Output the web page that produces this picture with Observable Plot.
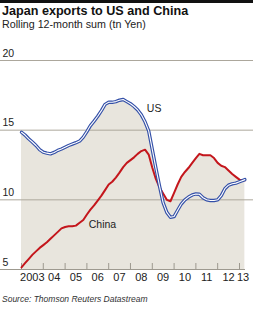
<!DOCTYPE html>
<html><head><meta charset="utf-8">
<script src="https://cdn.jsdelivr.net/npm/d3@7"></script>
<script src="https://cdn.jsdelivr.net/npm/@observablehq/plot@0.6"></script>
<style>
body{margin:0;background:#fff;}
#wrap{position:relative;width:253px;height:309px;overflow:hidden;font-family:"Liberation Sans",Arial,sans-serif;color:#222;}
#bar{position:absolute;left:0;top:0;width:253px;height:3px;background:#111;}
#title{position:absolute;left:2px;top:4.6px;font-weight:bold;font-size:12.6px;line-height:1;white-space:nowrap;color:#111;}
#subtitle{position:absolute;left:2px;top:19.4px;font-size:10.7px;line-height:1;white-space:nowrap;}
#chart{position:absolute;left:0;top:36px;}
#source{position:absolute;left:2px;top:294.8px;font-size:8.5px;font-style:italic;line-height:1;white-space:nowrap;color:#333;}
</style></head>
<body>
<div id="wrap">
<div id="bar"></div>
<div id="title">Japan exports to US and China</div>
<div id="subtitle">Rolling 12-month sum (tn Yen)</div>
<div id="chart"></div>
<div id="source">Source: Thomson Reuters Datastream</div>
</div>
<script>
const months = ["2003-01","2003-03","2003-05","2003-07","2003-09","2003-11",
"2004-01","2004-03","2004-05","2004-07","2004-09","2004-11",
"2005-01","2005-03","2005-05","2005-07","2005-09","2005-11",
"2006-01","2006-03","2006-05","2006-07","2006-09","2006-11",
"2007-01","2007-03","2007-05","2007-07","2007-09","2007-11",
"2008-01","2008-03","2008-05","2008-07","2008-09","2008-11",
"2009-01","2009-03","2009-05","2009-07","2009-09","2009-11",
"2010-01","2010-03","2010-05","2010-07","2010-09","2010-11",
"2011-01","2011-03","2011-05","2011-07","2011-09","2011-11",
"2012-01","2012-03","2012-05","2012-07","2012-09","2012-11",
"2013-01","2013-04"];
const usValues = [14.85,14.65,14.38,14.15,13.9,13.6,
13.42,13.35,13.3,13.4,13.55,13.65,
13.78,13.9,14.0,14.1,14.22,14.5,
14.9,15.33,15.65,16.0,16.4,16.85,
17.0,17.0,17.05,17.15,17.2,17.05,
16.9,16.7,16.45,16.1,15.6,14.95,
13.6,12.3,11.0,9.8,9.1,8.75,
8.8,9.25,9.7,10.0,10.2,10.35,
10.42,10.4,10.15,10.0,9.95,9.95,
10.0,10.3,10.8,11.05,11.15,11.2,
11.3,11.45];
const chinaValues = [5.15,5.45,5.75,6.05,6.3,6.55,
6.75,6.95,7.2,7.45,7.7,7.95,
8.05,8.1,8.1,8.15,8.35,8.55,
8.95,9.3,9.6,9.95,10.3,10.7,
11.1,11.3,11.6,11.95,12.35,12.65,
12.85,13.05,13.3,13.5,13.6,13.25,
12.3,11.5,10.9,10.45,10.0,9.9,
10.5,11.1,11.65,12.0,12.3,12.65,
13.0,13.3,13.2,13.2,13.2,13.0,
12.65,12.45,12.35,12.1,11.85,11.65,
11.45,11.4];
const yTicks = [5, 10, 15, 20];
const yearTicks = ["2003-01","2004-01","2005-01","2006-01","2007-01","2008-01","2009-01","2010-01","2011-01","2012-01","2013-01"];
const xLabelDates = ["2003-07","2004-07","2005-07","2006-07","2007-07","2008-07","2009-07","2010-07","2011-07","2012-07","2013-03"];
const xLabelTexts = ["2003","04","05","06","07","08","09","10","11","12","13"];
const seriesLabels = [
  {name: "US", date: "2008-10", value: 16.29},
  {name: "China", date: "2006-02", value: 8.01}
];

const parse = d3.utcParse("%Y-%m");
const rows = months.map((m, i) => ({date: parse(m), us: usValues[i], china: chinaValues[i]}));
const yearDates = yearTicks.map(parse);
const labelRows = xLabelDates.map((d, i) => ({date: parse(d), text: xLabelTexts[i]}));

const grid = "#aca79c";
const chart = Plot.plot({
  width: 253,
  height: 255,
  marginLeft: 21,
  marginRight: 14,
  marginTop: 24,
  marginBottom: 22,
  style: {fontFamily: "'Liberation Sans', Arial, sans-serif", fontSize: "10.5px", color: "#222", background: "transparent"},
  x: {type: "utc", domain: [parse("2003-01"), parse("2013-01")], axis: null},
  y: {domain: [5, 20], axis: null},
  marks: [
    Plot.areaY(rows, {x: "date", y1: () => 5, y2: d => Math.max(d.us, d.china), fill: "#e8e5dd", curve: "linear"}),
    Plot.ruleY([10, 15, 20], {stroke: grid, strokeWidth: 1, insetLeft: -21, insetRight: -14}),
    Plot.ruleY([5], {stroke: "#9d998f", strokeWidth: 1, insetLeft: -21, insetRight: -6}),
    Plot.tickX(yearDates, {x: d => d, stroke: "#9d998f", insetTop: 203}),
    Plot.lineY(rows, {x: "date", y: "china", stroke: "#c4161c", strokeWidth: 2}),
    Plot.lineY(rows, {x: "date", y: "us", stroke: "#3450a8", strokeWidth: 3.4}),
    Plot.lineY(rows, {x: "date", y: "us", stroke: "#ffffff", strokeWidth: 1.1}),
    Plot.text(yTicks, {y: d => d, text: d => String(d), frameAnchor: "left", textAnchor: "start", lineAnchor: "bottom", dx: -19, dy: -4, fill: "#222"}),
    Plot.text(labelRows, {x: "date", text: "text", frameAnchor: "bottom", lineAnchor: "bottom", dy: 11, fill: "#222", fontSize: "11px"}),
    Plot.text(seriesLabels, {x: d => parse(d.date), y: "value", text: "name", textAnchor: "start", lineAnchor: "bottom", fill: "#222", fontSize: "10.5px"})
  ]
});
document.getElementById("chart").appendChild(chart);
</script>
</body></html>
